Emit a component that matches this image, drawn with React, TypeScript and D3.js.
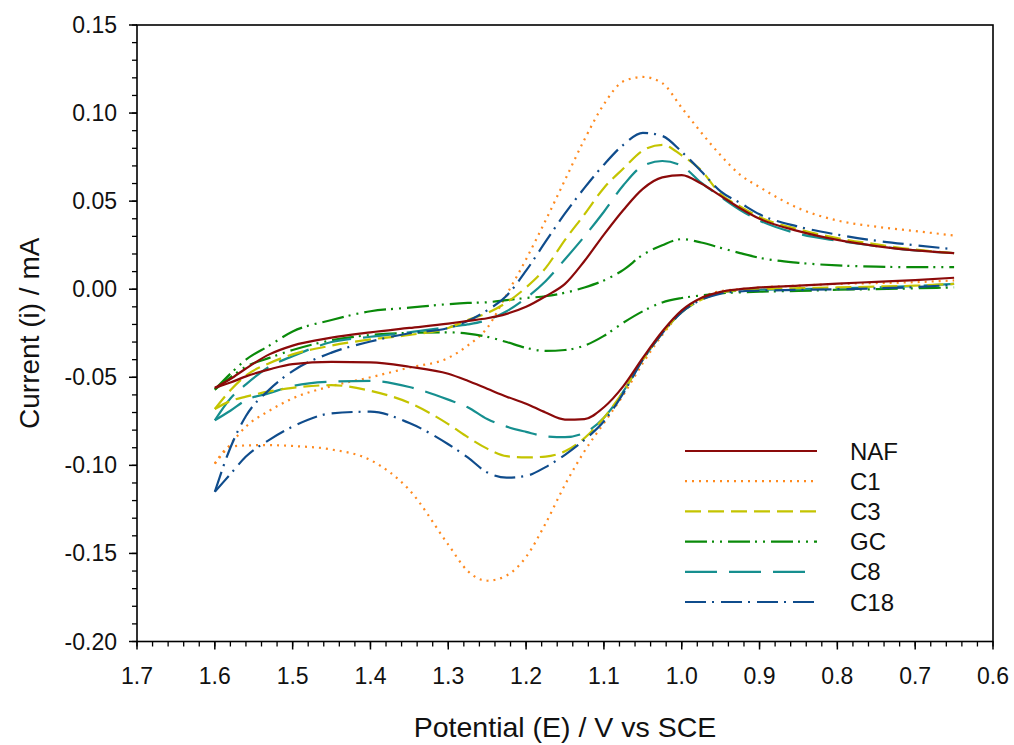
import React from "react";
import * as d3 from "d3";

// Potential grid (V vs SCE), shared by both sweep branches
const potential = [1.6, 1.58, 1.56, 1.53, 1.5, 1.45, 1.4, 1.35, 1.3, 1.275, 1.25, 1.225, 1.2, 1.175, 1.15, 1.125, 1.1, 1.075, 1.05, 1.025, 1.0, 0.975, 0.95, 0.925, 0.9, 0.85, 0.8, 0.75, 0.7, 0.65];

// Currents (mA): upper (oxidation) and lower (reduction) branches
const nafUpper = [-0.056, -0.051, -0.045, -0.037, -0.032, -0.0275, -0.0245, -0.022, -0.0195, -0.018, -0.0165, -0.014, -0.01, -0.004, 0.003, 0.016, 0.031, 0.045, 0.057, 0.0635, 0.0648, 0.06, 0.053, 0.046, 0.04, 0.033, 0.028, 0.0245, 0.022, 0.0205];
const nafLower = [-0.056, -0.053, -0.0495, -0.0455, -0.0425, -0.0413, -0.0415, -0.044, -0.048, -0.052, -0.0565, -0.061, -0.065, -0.07, -0.074, -0.0737, -0.067, -0.055, -0.039, -0.024, -0.012, -0.005, -0.0015, 0.0, 0.001, 0.002, 0.0032, 0.0042, 0.0052, 0.0065];

const c1Upper = [-0.099, -0.088, -0.078, -0.069, -0.062, -0.055, -0.05, -0.0445, -0.039, -0.032, -0.022, -0.003, 0.017, 0.039, 0.062, 0.085, 0.105, 0.118, 0.1205, 0.117, 0.103, 0.089, 0.076, 0.065, 0.058, 0.046, 0.039, 0.0355, 0.033, 0.0305];
const c1Lower = [-0.099, -0.0895, -0.0887, -0.0885, -0.089, -0.091, -0.097, -0.114, -0.145, -0.16, -0.1655, -0.1625, -0.152, -0.133, -0.111, -0.092, -0.076, -0.06, -0.042, -0.026, -0.013, -0.005, -0.001, 0.0, 0.001, 0.002, 0.003, 0.0035, 0.004, 0.005];

const c3Upper = [-0.068, -0.0574, -0.049, -0.042, -0.037, -0.032, -0.0285, -0.026, -0.022, -0.0175, -0.0135, -0.0075, 0.001, 0.012, 0.028, 0.0425, 0.0575, 0.0685, 0.0787, 0.082, 0.076, 0.0675, 0.054, 0.047, 0.041, 0.034, 0.029, 0.0255, 0.0225, 0.0205];
const c3Lower = [-0.068, -0.0635, -0.061, -0.058, -0.056, -0.0545, -0.0577, -0.0645, -0.0766, -0.084, -0.0905, -0.0948, -0.0955, -0.095, -0.092, -0.0845, -0.073, -0.058, -0.04, -0.025, -0.013, -0.006, -0.002, -0.0005, 0.0, 0.0006, 0.001, 0.0015, 0.002, 0.003];

const gcUpper = [-0.057, -0.048, -0.04, -0.032, -0.024, -0.0175, -0.0125, -0.0105, -0.0085, -0.0078, -0.0074, -0.0062, -0.005, -0.004, -0.002, 0.001, 0.005, 0.011, 0.0195, 0.025, 0.0284, 0.0265, 0.0235, 0.0205, 0.0178, 0.015, 0.0135, 0.0128, 0.0125, 0.0125];
const gcLower = [-0.057, -0.05, -0.044, -0.039, -0.0345, -0.029, -0.026, -0.0248, -0.0245, -0.0252, -0.027, -0.03, -0.0333, -0.035, -0.0345, -0.032, -0.0265, -0.019, -0.0125, -0.0075, -0.005, -0.0035, -0.0023, -0.0018, -0.0014, -0.001, -0.0003, 0.0, 0.0005, 0.001];

const c8Upper = [-0.0744, -0.062, -0.054, -0.044, -0.038, -0.03, -0.027, -0.0245, -0.0215, -0.02, -0.0175, -0.0125, -0.005, 0.0045, 0.017, 0.03, 0.044, 0.059, 0.07, 0.0728, 0.07, 0.0605, 0.0525, 0.045, 0.039, 0.0315, 0.0275, 0.0245, 0.022, 0.0205];
const c8Lower = [-0.0744, -0.069, -0.063, -0.059, -0.055, -0.0525, -0.052, -0.0555, -0.0627, -0.067, -0.0737, -0.078, -0.081, -0.0835, -0.084, -0.0815, -0.073, -0.058, -0.04, -0.025, -0.013, -0.006, -0.002, -0.0008, -0.0003, 0.0, 0.0005, 0.001, 0.0018, 0.003];

const c18Upper = [-0.115, -0.09, -0.072, -0.057, -0.0465, -0.036, -0.0297, -0.025, -0.022, -0.018, -0.012, -0.0037, 0.0105, 0.027, 0.043, 0.0575, 0.0707, 0.082, 0.0888, 0.087, 0.078, 0.067, 0.0555, 0.049, 0.0425, 0.0355, 0.031, 0.0275, 0.025, 0.0227];
const c18Lower = [-0.115, -0.105, -0.095, -0.0855, -0.078, -0.0705, -0.0695, -0.076, -0.088, -0.0955, -0.104, -0.107, -0.106, -0.101, -0.094, -0.0855, -0.075, -0.059, -0.04, -0.025, -0.013, -0.006, -0.0025, -0.0012, -0.0008, -0.0004, 0.0, 0.0005, 0.0012, 0.0025];

const seriesNames = ["NAF", "C1", "C3", "GC", "C8", "C18"];
const xTickValues = [1.7, 1.6, 1.5, 1.4, 1.3, 1.2, 1.1, 1.0, 0.9, 0.8, 0.7, 0.6];
const xTickLabels = ["1.7", "1.6", "1.5", "1.4", "1.3", "1.2", "1.1", "1.0", "0.9", "0.8", "0.7", "0.6"];
const yTickValues = [0.15, 0.1, 0.05, 0.0, -0.05, -0.1, -0.15, -0.2];
const yTickLabels = ["0.15", "0.10", "0.05", "0.00", "-0.05", "-0.10", "-0.15", "-0.20"];

const styles: Record<string, { color: string; dash: string | undefined }> = {
  NAF: { color: "#8B0A0A", dash: undefined },
  C1: { color: "#FF8A1F", dash: "2 5" },
  C3: { color: "#C4C400", dash: "16 7" },
  GC: { color: "#0A8A0A", dash: "22 5 2 6 2 6" },
  C8: { color: "#168F8F", dash: "32 12" },
  C18: { color: "#0F4C8C", dash: "21 6 2 7" },
};

const branches: Record<string, number[][]> = {
  NAF: [nafUpper, nafLower],
  C1: [c1Upper, c1Lower],
  C3: [c3Upper, c3Lower],
  GC: [gcUpper, gcLower],
  C8: [c8Upper, c8Lower],
  C18: [c18Upper, c18Lower],
};

export default function App() {
  const W = 1014, H = 745;
  const L = 137, R = 993, T = 25, B = 641.5;
  const x = d3.scaleLinear().domain([1.7, 0.6]).range([L, R]);
  const y = d3.scaleLinear().domain([-0.2, 0.15]).range([B, T]);
  const line = d3
    .line<[number, number]>()
    .x((d) => x(d[0]))
    .y((d) => y(d[1]))
    .curve(d3.curveMonotoneX);

  const xMinor = d3.range(0, 56).map((i) => 0.6 + i * 0.02);
  const yMinor = d3.range(0, 36).map((i) => -0.2 + i * 0.01);
  const font = "'Liberation Sans', Arial, Helvetica, sans-serif";
  const drawOrder = ["C1", "GC", "C8", "C3", "C18", "NAF"];

  const legX1 = 685, legX2 = 817, legY0 = 451, legDy = 30.2;

  return (
    <svg width={W} height={H} style={{ position: "absolute", left: 0, top: 0, background: "#fff" }} fontFamily={font}>
      <rect x={0} y={0} width={W} height={H} fill="#fff" />
      {/* minor ticks */}
      {xMinor.map((v, i) => (
        <line key={"xm" + i} x1={x(v)} x2={x(v)} y1={B} y2={B + 5} stroke="#000" strokeWidth={1.3} />
      ))}
      {yMinor.map((v, i) => (
        <line key={"ym" + i} x1={L - 5} x2={L} y1={y(v)} y2={y(v)} stroke="#000" strokeWidth={1.3} />
      ))}
      {/* major ticks & labels */}
      {xTickValues.map((v, i) => (
        <g key={"xt" + i}>
          <line x1={x(v)} x2={x(v)} y1={B} y2={B + 8} stroke="#000" strokeWidth={1.5} />
          <text x={x(v)} y={684} textAnchor="middle" fontSize={23} fill="#111">
            {xTickLabels[i]}
          </text>
        </g>
      ))}
      {yTickValues.map((v, i) => (
        <g key={"yt" + i}>
          <line x1={L - 8} x2={L} y1={y(v)} y2={y(v)} stroke="#000" strokeWidth={1.5} />
          <text x={117} y={y(v) + 8} textAnchor="end" fontSize={23} fill="#111">
            {yTickLabels[i]}
          </text>
        </g>
      ))}
      {/* curves */}
      {drawOrder.map((name) => {
        const st = styles[name];
        return branches[name].map((vals, bi) => {
          const pts: [number, number][] = potential.map((e, k) => [e, vals[k]]);
          return (
            <path
              key={name + bi}
              d={line(pts) || ""}
              fill="none"
              stroke={st.color}
              strokeWidth={2.2}
              strokeDasharray={st.dash}
            />
          );
        });
      })}
      {/* frame */}
      <rect x={L} y={T} width={R - L} height={B - T} fill="none" stroke="#000" strokeWidth={1.6} />
      {/* legend */}
      {seriesNames.map((name, i) => {
        const st = styles[name];
        const yy = legY0 + i * legDy;
        return (
          <g key={"lg" + name}>
            <line x1={legX1} x2={legX2} y1={yy} y2={yy} stroke={st.color} strokeWidth={2.2} strokeDasharray={st.dash} />
            <text x={850} y={yy + 8.5} fontSize={24} fill="#111">
              {name}
            </text>
          </g>
        );
      })}
      {/* axis titles */}
      <text x={(L + R) / 2} y={737} textAnchor="middle" fontSize={28.5} fill="#111">
        Potential (E) / V vs SCE
      </text>
      <text transform={`translate(39, ${(T + B) / 2}) rotate(-90)`} textAnchor="middle" fontSize={28} fill="#111">
        Current (i) / mA
      </text>
    </svg>
  );
}
